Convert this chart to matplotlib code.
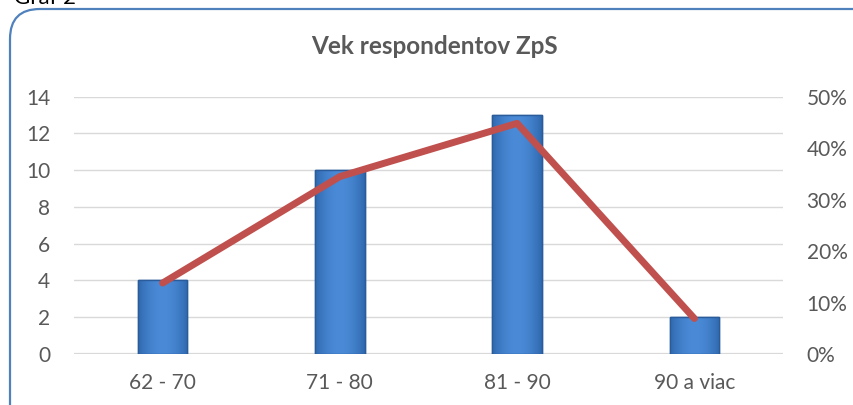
import matplotlib
matplotlib.use("Agg")
import matplotlib.pyplot as plt
import numpy as np
from matplotlib.patches import FancyBboxPatch
from matplotlib.ticker import PercentFormatter

categories = ["62 - 70", "71 - 80", "81 - 90", "90 a viac"]
counts = [4, 10, 13, 2]
shares = [c / sum(counts) for c in counts]

title = "Vek respondentov ZpS"
caption = "Graf 2"

W, H = 854, 405
fig = plt.figure(figsize=(W / 100, H / 100), dpi=100)
plt.rcParams["font.family"] = ["Lato", "DejaVu Sans"]

text_grey = "#595959"
grid_grey = "#D9D9D9"
bar_blue = "#3F7DC8"
bar_edge = "#2A5C9C"
line_red = "#C0504D"
frame_blue = "#4F81BD"

# rounded frame around the chart (runs off the right and bottom edges)
frame = FancyBboxPatch((10 / W, -40 / H), (W + 40 - 10) / W, (H + 40 - 9) / H,
                       boxstyle="round,pad=0,rounding_size=0.035",
                       transform=fig.transFigure, facecolor="white",
                       edgecolor=frame_blue, linewidth=1.6, mutation_aspect=W / H,
                       zorder=-10)
fig.patches.append(frame)

fig.text(14 / W, 1 - 4 / H, caption, fontsize=16, color="black", va="baseline", ha="left")

left, right, top, bottom = 74, 783, 96.7, 354
ax = fig.add_axes([left / W, 1 - bottom / H, (right - left) / W, (bottom - top) / H])
ax.set_facecolor("none")
x = np.arange(len(categories))

bars = ax.bar(x, counts, width=0.28, color=bar_blue, edgecolor=bar_edge, linewidth=1.0, zorder=3)

# horizontal shading inside each bar: darker sides, lighter middle
grad = np.linspace(-1, 1, 64)
shade = 1 - np.abs(grad) ** 2
img = np.zeros((1, 64, 4))
c_dark = np.array(matplotlib.colors.to_rgb("#2F68AE"))
c_light = np.array(matplotlib.colors.to_rgb("#4A8AD6"))
img[0, :, :3] = c_dark[None, :] + (c_light - c_dark)[None, :] * shade[:, None]
img[0, :, 3] = 1
for b in bars:
    bx, bw, bh = b.get_x(), b.get_width(), b.get_height()
    im = ax.imshow(img, extent=(bx, bx + bw, 0, bh), aspect="auto", zorder=3.5, interpolation="bilinear")
    im.set_clip_path(b)
    ax.bar(b.get_x() + bw / 2, bh, width=bw, color="none", edgecolor=bar_edge, linewidth=1.0, zorder=3.6)

ax.set_xlim(-0.5, len(categories) - 0.5)
ax.set_ylim(0, 14)
ax.set_yticks(range(0, 15, 2))
ax.yaxis.grid(True, color=grid_grey, linewidth=1.0, zorder=0)
ax.set_axisbelow(True)
for s in ax.spines.values():
    s.set_visible(False)
ax.axhline(0, color=grid_grey, linewidth=1.6, zorder=2)
ax.set_xticks(x)
ax.set_xticklabels(categories)
ax.tick_params(axis="both", length=0, colors=text_grey, labelsize=15)
ax.tick_params(axis="x", pad=14)
ax.tick_params(axis="y", pad=17)

ax2 = ax.twinx()
ax2.set_ylim(0, 0.5)
ax2.set_yticks(np.arange(0, 0.51, 0.1))
ax2.yaxis.set_major_formatter(PercentFormatter(1.0, decimals=0))
ax2.tick_params(axis="y", length=0, colors=text_grey, labelsize=15, pad=17)
for s in ax2.spines.values():
    s.set_visible(False)
ax2.plot(x, shares, color=line_red, linewidth=5, solid_capstyle="round",
         solid_joinstyle="round", zorder=5)

fig.text(434 / W, 1 - 47 / H, title, fontsize=17.5, fontweight="bold",
         color=text_grey, ha="center", va="center")

fig.savefig("out.png", dpi=100)
